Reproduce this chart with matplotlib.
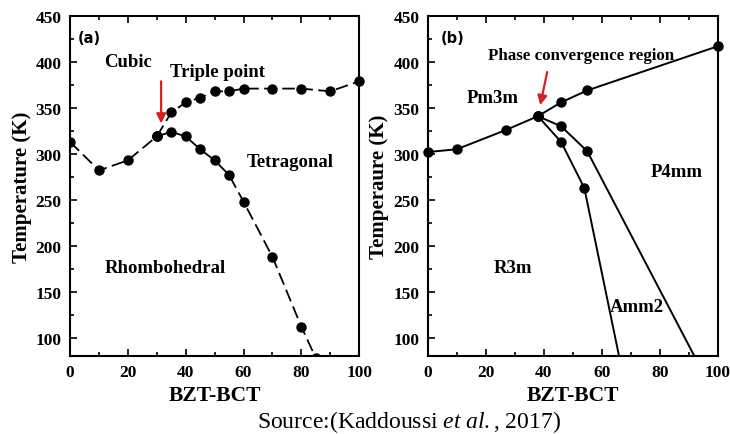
import matplotlib
matplotlib.use("Agg")
import matplotlib.pyplot as plt
from matplotlib.ticker import MultipleLocator

plt.rcParams['font.family'] = ['Liberation Serif', 'DejaVu Serif']
plt.rcParams['font.weight'] = 'bold'
plt.rcParams['mathtext.fontset'] = 'custom'
plt.rcParams['mathtext.rm'] = 'Liberation Serif:weight=normal'
plt.rcParams['mathtext.it'] = 'Liberation Serif:style=italic:weight=normal'

# (a) BZT-BCT phase diagram
a_low_x = [0, 10, 20, 30]
a_low_t = [313, 282, 293, 319]
a_cubic_x = [30, 35, 40, 45, 50, 55, 60, 70, 80, 90, 100]
a_cubic_t = [319, 345, 356, 361, 368, 368, 371, 371, 371, 368, 379]
a_rhombo_x = [30, 35, 40, 45, 50, 55, 60, 70, 80, 85]
a_rhombo_t = [319, 324, 319, 305, 293, 277, 248, 188, 112, 78]

# (b)
b_cubic_x = [0, 10, 27, 38, 46, 55, 100]
b_cubic_t = [302, 305, 326, 341, 356, 369, 417]
b_p4mm_x = [38, 46, 55]
b_p4mm_t = [341, 330, 303]
b_p4mm_end = (92, 80)
b_amm2_x = [38, 46, 54]
b_amm2_t = [341, 313, 263]
b_amm2_end = (66, 80)

fig = plt.figure(figsize=(7.3, 4.35), dpi=100)
ax1 = fig.add_axes([0.096, 0.179, 0.396, 0.782])
ax2 = fig.add_axes([0.586, 0.179, 0.397, 0.782])

dash = (0, (7, 3))
ms = 6.5
ax1.plot(a_low_x, a_low_t, color='black', lw=1.3, linestyle=dash, marker='o', ms=ms)
ax1.plot(a_cubic_x, a_cubic_t, color='black', lw=1.3, linestyle=dash, marker='o', ms=ms,
         clip_on=False)
ax1.plot(a_rhombo_x, a_rhombo_t, color='black', lw=1.3, linestyle=dash, marker='o', ms=ms)

ax2.plot(b_cubic_x, b_cubic_t, color='black', lw=1.4, marker='o', ms=ms, clip_on=False)
ax2.plot(b_p4mm_x, b_p4mm_t, color='black', lw=1.4, marker='o', ms=ms)
ax2.plot([b_p4mm_x[-1], b_p4mm_end[0]], [b_p4mm_t[-1], b_p4mm_end[1]], color='black', lw=1.4)
ax2.plot(b_amm2_x, b_amm2_t, color='black', lw=1.4, marker='o', ms=ms)
ax2.plot([b_amm2_x[-1], b_amm2_end[0]], [b_amm2_t[-1], b_amm2_end[1]], color='black', lw=1.4)

for ax, ylab in [(ax1, 'Temperature (K)'), (ax2, 'Temperaure (K)')]:
    ax.set_xlim(0, 100)
    ax.set_ylim(80, 450)
    ax.xaxis.set_major_locator(MultipleLocator(20))
    ax.xaxis.set_minor_locator(MultipleLocator(10))
    ax.yaxis.set_major_locator(MultipleLocator(50))
    ax.yaxis.set_minor_locator(MultipleLocator(25))
    ax.tick_params(which='both', direction='in', top=True, right=False, width=1.2)
    ax.tick_params(which='major', length=5, labelsize=12.5, pad=6)
    ax.tick_params(which='minor', length=3)
    for sp in ax.spines.values():
        sp.set_linewidth(1.5)
    for lbl in ax.get_xticklabels() + ax.get_yticklabels():
        lbl.set_fontweight('bold')
    ax.set_xlabel('BZT-BCT', fontsize=15.5, fontweight='bold', labelpad=3)
    ax.set_ylabel(ylab, fontsize=15, fontweight='bold', labelpad=3)

tkw = dict(fontweight='bold', fontsize=13.5, ha='center', va='center')
ax1.text(2.5, 427, '(a)', family='DejaVu Sans', fontsize=10.5, fontweight='bold', va='center')
ax1.text(20, 401, 'Cubic', **tkw)
ax1.text(51, 390, 'Triple point', **tkw)
ax1.text(76, 292, 'Tetragonal', **tkw)
ax1.text(33, 176, 'Rhombohedral', **tkw)
ax1.annotate('', xy=(31.5, 330), xytext=(31.5, 382),
             arrowprops=dict(arrowstyle='-|>', color='#d42020', lw=1.6, mutation_scale=14))

ax2.text(4.5, 427, '(b)', family='DejaVu Sans', fontsize=10.5, fontweight='bold', va='center')
ax2.text(53, 408, 'Phase convergence region', fontweight='bold', fontsize=12.2,
         ha='center', va='center')
ax2.text(22.5, 361, 'Pm3m', **tkw)
ax2.text(86, 281, 'P4mm', **tkw)
ax2.text(29.5, 176, 'R3m', **tkw)
ax2.text(72, 134, 'Amm2', **tkw)
ax2.annotate('', xy=(38.6, 350), xytext=(41.4, 392),
             arrowprops=dict(arrowstyle='-|>', color='#d42020', lw=1.6, mutation_scale=14))

fig.text(0.56, 0.03, r'Source:(Kaddoussi $\it{et\ al.}$, 2017)', fontsize=17,
         fontweight='normal', ha='center', va='center')

fig.savefig('out.png', dpi=100)
